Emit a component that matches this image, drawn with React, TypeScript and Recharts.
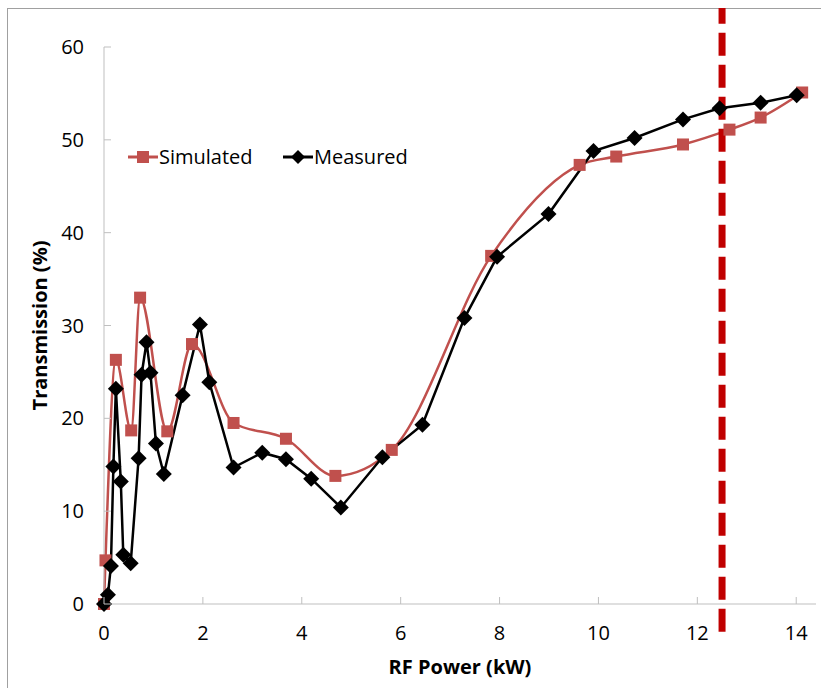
import React from "react";
import {
  LineChart,
  Line,
  XAxis,
  YAxis,
  ReferenceLine,
} from "recharts";

const simPower = [0, 0.03, 0.24, 0.55, 0.73, 1.28, 1.78, 2.62, 3.68, 4.68, 5.82, 7.83, 9.62, 10.36, 11.71, 12.65, 13.28, 14.12];
const simValues = [0, 4.7, 26.3, 18.7, 33.0, 18.6, 28.0, 19.5, 17.8, 13.8, 16.6, 37.5, 47.3, 48.2, 49.5, 51.1, 52.4, 55.1];

const measPower = [0, 0.08, 0.14, 0.19, 0.24, 0.34, 0.39, 0.54, 0.7, 0.76, 0.86, 0.94, 1.05, 1.21, 1.59, 1.94, 2.13, 2.62, 3.2, 3.68, 4.19, 4.79, 5.63, 6.44, 7.29, 7.95, 8.99, 9.9, 10.73, 11.71, 12.45, 13.28, 14.01];
const measValues = [0, 1.0, 4.1, 14.8, 23.2, 13.2, 5.3, 4.4, 15.7, 24.7, 28.2, 24.9, 17.3, 14.0, 22.5, 30.1, 23.9, 14.7, 16.3, 15.6, 13.5, 10.4, 15.8, 19.3, 30.8, 37.4, 42.0, 48.8, 50.2, 52.2, 53.4, 54.0, 54.8];

const xTicks = [0, 2, 4, 6, 8, 10, 12, 14];
const yTicks = [0, 10, 20, 30, 40, 50, 60];
const limitPower = 12.5;

const simData = simPower.map((x, i) => ({ x, y: simValues[i] }));
const measData = measPower.map((x, i) => ({ x, y: measValues[i] }));

const FONT = "'Open Sans', sans-serif";
const AXIS = "#bfbfbf";
const RED = "#c0504d";

const Square = (props: any) => {
  const { cx, cy } = props;
  if (cx == null || cy == null) return null;
  return <rect x={cx - 6} y={cy - 6} width={12} height={12} fill={RED} />;
};

const Diamond = (props: any) => {
  const { cx, cy } = props;
  if (cx == null || cy == null) return null;
  return (
    <polygon
      points={`${cx},${cy - 8} ${cx + 8},${cy} ${cx},${cy + 8} ${cx - 8},${cy}`}
      fill="#000"
    />
  );
};

const YTick = (props: any) => {
  const { x, y, payload } = props;
  return (
    <g>
      <line x1={x + 20} x2={x + 27} y1={y} y2={y} stroke={AXIS} />
      <text x={x} y={y} dy={7} textAnchor="end" fontSize={20} fontFamily={FONT} fill="#000">
        {payload.value}
      </text>
    </g>
  );
};

const XTick = (props: any) => {
  const { x, y, payload } = props;
  return (
    <g>
      <line x1={x} x2={x} y1={y - 18} y2={y - 25} stroke={AXIS} />
      <text x={x} y={y} dy={18} textAnchor="middle" fontSize={20} fontFamily={FONT} fill="#000">
        {payload.value}
      </text>
    </g>
  );
};

const ChartLegend = () => (
  <svg width={300} height={30} style={{ position: "absolute", left: 128, top: 142 }}>
    <line x1={0} x2={30} y1={15} y2={15} stroke={RED} strokeWidth={3} />
    <rect x={9} y={9} width={12} height={12} fill={RED} />
    <text x={31} y={22} fontSize={20} fontFamily={FONT} fill="#000">Simulated</text>
    <line x1={155} x2={185} y1={15} y2={15} stroke="#000" strokeWidth={3} />
    <polygon points="170,8 177,15 170,22 163,15" fill="#000" />
    <text x={186} y={22} fontSize={20} fontFamily={FONT} fill="#000">Measured</text>
  </svg>
);

export default function App() {
  return (
    <div style={{ position: "absolute", left: 0, top: 0, width: 821, height: 688, background: "#fff" }}>
      <div
        style={{
          position: "absolute",
          left: 7,
          top: 8,
          width: 814,
          height: 680,
          borderLeft: "1.5px solid #a0a0a0",
          borderTop: "1.5px solid #a0a0a0",
        }}
      />
      <LineChart
        width={821}
        height={688}
        margin={{ top: 47, right: 5, left: 24, bottom: 14 }}
        style={{ position: "absolute", left: 0, top: 0 }}
      >
        <XAxis
          type="number"
          dataKey="x"
          domain={[0, 14.4]}
          ticks={xTicks}
          stroke={AXIS}
          tickLine={false}
          tickSize={0}
          tickMargin={18}
          height={70}
          tick={<XTick />}
          label={{
            value: "RF Power (kW)",
            position: "insideBottom",
            offset: 0,
            fontSize: 20,
            fontWeight: "bold",
            fontFamily: FONT,
            fill: "#000",
          }}
        />
        <YAxis
          type="number"
          dataKey="y"
          domain={[0, 60]}
          ticks={yTicks}
          stroke={AXIS}
          tickLine={false}
          tickSize={0}
          tickMargin={20}
          width={80}
          tick={<YTick />}
          label={{
            value: "Transmission (%)",
            angle: -90,
            position: "insideLeft",
            offset: 16,
            style: { textAnchor: "middle" },
            fontSize: 20,
            fontWeight: "bold",
            fontFamily: FONT,
            fill: "#000",
          }}
        />
        <Line
          data={simData}
          dataKey="y"
          name="Simulated"
          type="monotone"
          stroke={RED}
          strokeWidth={2.5}
          dot={<Square />}
          activeDot={false}
          isAnimationActive={false}
        />
        <Line
          data={measData}
          dataKey="y"
          name="Measured"
          type="linear"
          stroke="#000"
          strokeWidth={2.5}
          dot={<Diamond />}
          activeDot={false}
          isAnimationActive={false}
        />
        <ReferenceLine
          segment={[
            { x: limitPower, y: -3 },
            { x: limitPower, y: 64.2 },
          ]}
          stroke="#c00000"
          strokeWidth={7}
          strokeDasharray="23 9"
          ifOverflow="visible"
        />
      </LineChart>
      <ChartLegend />
    </div>
  );
}
